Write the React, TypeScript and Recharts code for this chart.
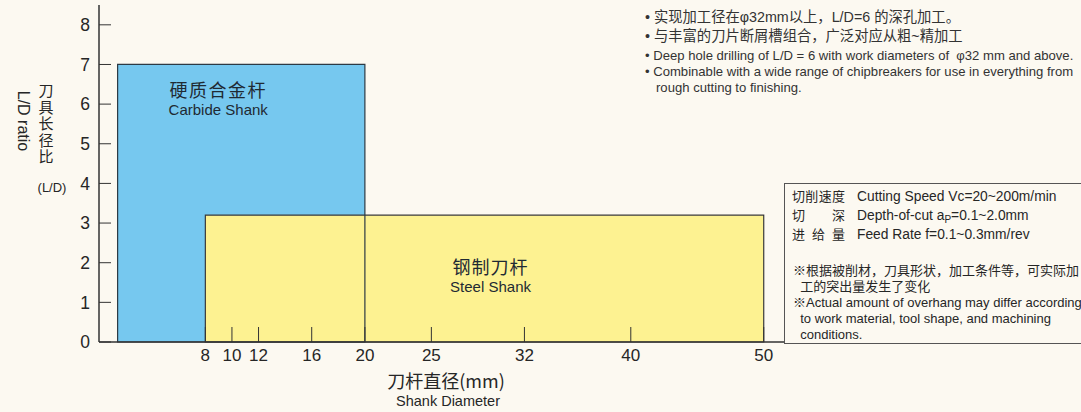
import React from "react";
import { ComposedChart, XAxis, YAxis, ReferenceArea } from "recharts";

if (typeof document !== "undefined") {
  document.body.style.margin = "0";
  document.body.style.background = "#fcf9f1";
}

// 刀杆直径刻度 / L/D 刻度
const diameterTicks = [8, 10, 12, 16, 20, 25, 32, 40, 50];
const ldTicks = [0, 1, 2, 3, 4, 5, 6, 7, 8];

// 刀杆区域: 硬质合金杆, 钢制刀杆
const shankNames = ["硬质合金杆", "钢制刀杆"];
const shankNamesEn = ["Carbide Shank", "Steel Shank"];
const diaMin = [1.4, 8];
const diaMax = [20, 50];
const ldMax = [7, 3.2];

const notesCn = [
  "实现加工径在φ32mm以上，L/D=6 的深孔加工。",
  "与丰富的刀片断屑槽组合，广泛对应从粗~精加工",
];
const notesEn = [
  "Deep hole drilling of L/D = 6 with work diameters of  φ32 mm and above.",
  "Combinable with a wide range of chipbreakers for use in everything from",
];
const notesEnCont = "rough cutting to finishing.";

const condLabels = [["切", "削", "速", "度"], ["切", "深"], ["进", "给", "量"]];
const remarks = [
  "※根据被削材，刀具形状，加工条件等，可实际加",
  "  工的突出量发生了变化",
  "※Actual amount of overhang may differ according",
  "  to work material, tool shape, and machining",
  "  conditions.",
];

const SANS = "'Liberation Sans', Arial, Helvetica, 'Noto Sans CJK SC', sans-serif";
const CJK = "'Noto Sans CJK SC', sans-serif";
const INK = "#262626";

const XTick = (props: any) => {
  const { x, y, payload } = props;
  return (
    <g>
      <line x1={x} x2={x} y1={y} y2={y - 15} stroke="#333" strokeWidth={1} />
      <text x={x} y={y + 19} textAnchor="middle" fontSize={17} fill={INK} fontFamily={SANS}>
        {payload.value}
      </text>
    </g>
  );
};

const YTick = (props: any) => {
  const { x, y, payload } = props;
  return (
    <g>
      <line x1={x} x2={x + 12} y1={y} y2={y} stroke="#333" strokeWidth={1} />
      <text x={x - 9} y={y} dy="0.36em" textAnchor="end" fontSize={17.5} fill={INK} fontFamily={SANS}>
        {payload.value}
      </text>
    </g>
  );
};

const CarbideLabel = (props: any) => {
  const { x, y } = props.viewBox;
  return (
    <g fill="#1f2a33">
      <text x={x + 52} y={y + 33} fontSize={18} letterSpacing={1.5} fontFamily={CJK}>
        {shankNames[0]}
      </text>
      <text x={x + 51} y={y + 51} fontSize={15} fontFamily={SANS}>
        {shankNamesEn[0]}
      </text>
    </g>
  );
};

const SteelLabel = (props: any) => {
  const { x, y, width } = props.viewBox;
  const cx = x + width / 2 + 6;
  return (
    <g fill="#1f2a33" textAnchor="middle">
      <text x={cx} y={y + 59} fontSize={18} letterSpacing={1} fontFamily={CJK}>
        {shankNames[1]}
      </text>
      <text x={cx} y={y + 77} fontSize={15} fontFamily={SANS}>
        {shankNamesEn[1]}
      </text>
    </g>
  );
};

const XTitle = (props: any) => {
  const { x, y, width } = props.viewBox;
  const cx = x + width / 2 + 4;
  return (
    <g fill={INK} textAnchor="middle">
      <text x={cx} y={y + 46} fontSize={18} fontFamily={CJK}>
        刀杆直径(mm)
      </text>
      <text x={cx + 2} y={y + 64} fontSize={14.5} fontFamily={SANS}>
        Shank Diameter
      </text>
    </g>
  );
};

const YTitle = () => (
  <g fill={INK}>
    {/* 竖排中文 */}
    <text x={46} y={83} fontSize={15} letterSpacing={1.5} fontFamily={CJK} style={{ writingMode: "vertical-rl" }}>
      刀具长径比
    </text>
    <text x={52} y={192} textAnchor="middle" fontSize={13} fontFamily={SANS}>
      (L/D)
    </text>
    <text x={24} y={121} textAnchor="middle" dy="0.35em" fontSize={16} fontFamily={SANS} transform="rotate(90 24 121)">
      L/D ratio
    </text>
  </g>
);

const noteStyle: React.CSSProperties = {
  position: "absolute",
  left: 645,
  whiteSpace: "pre",
  color: "#333",
  fontFamily: SANS,
  lineHeight: "16px",
};

export default function App() {
  return (
    <div style={{ position: "relative", width: 1081, height: 412, background: "#fcf9f1", overflow: "hidden" }}>
      <ComposedChart width={1081} height={412} data={[]} margin={{ top: 5, right: 296, bottom: 0, left: 0 }}>
        {/* 硬质合金杆 填充 */}
        <ReferenceArea x1={diaMin[0]} x2={diaMax[0]} y1={0} y2={ldMax[0]} fill="#76c8ef" fillOpacity={1} stroke="none" ifOverflow="visible" />
        {/* 钢制刀杆 */}
        <ReferenceArea
          x1={diaMin[1]}
          x2={diaMax[1]}
          y1={0}
          y2={ldMax[1]}
          fill="#fdf291"
          fillOpacity={1}
          stroke="#3a3a3a"
          strokeWidth={1.2}
          ifOverflow="visible"
          label={SteelLabel}
        />
        {/* 硬质合金杆 边框 */}
        <ReferenceArea
          x1={diaMin[0]}
          x2={diaMax[0]}
          y1={0}
          y2={ldMax[0]}
          fill="none"
          fillOpacity={0}
          stroke="#2c3a44"
          strokeWidth={1.2}
          ifOverflow="visible"
          label={CarbideLabel}
        />
        <XAxis
          type="number"
          dataKey="x"
          domain={[0, 51.6]}
          ticks={diameterTicks}
          interval={0}
          tick={<XTick />}
          tickLine={false}
          tickSize={0}
          tickMargin={0}
          height={70}
          allowDataOverflow
          axisLine={{ stroke: "#333", strokeWidth: 1.5 }}
          label={{ content: XTitle }}
        />
        <YAxis
          type="number"
          domain={[0, 8.5]}
          ticks={ldTicks}
          interval={0}
          tick={<YTick />}
          tickLine={false}
          tickSize={0}
          tickMargin={0}
          width={99}
          allowDataOverflow
          axisLine={{ stroke: "#333", strokeWidth: 1.5 }}
          label={{ content: YTitle }}
        />
      </ComposedChart>

      {/* 特点说明 */}
      {notesCn.map((t, i) => (
        <div key={t} style={{ ...noteStyle, top: 9 + i * 19, fontSize: 14.3 }}>
          {"• " + t}
        </div>
      ))}
      {notesEn.map((t, i) => (
        <div key={t} style={{ ...noteStyle, top: 48 + i * 16, fontSize: 13.1 }}>
          {"• " + t}
        </div>
      ))}
      <div style={{ ...noteStyle, left: 656, top: 80, fontSize: 13.1 }}>{notesEnCont}</div>

      {/* 切削条件 */}
      <div
        style={{
          position: "absolute",
          left: 784,
          top: 183,
          width: 320,
          height: 159,
          border: "1px solid #555",
          fontFamily: SANS,
          color: "#262626",
          fontSize: 13.8,
        }}
      >
        {condLabels.map((chars, i) => (
          <div
            key={i}
            style={{ position: "absolute", left: 7, top: 5 + i * 19, width: 53, display: "flex", justifyContent: "space-between", lineHeight: "16px", fontSize: 13 }}
          >
            {chars.map((c, j) => (
              <span key={j}>{c}</span>
            ))}
          </div>
        ))}
        <div style={{ position: "absolute", left: 72, top: 5, lineHeight: "16px", whiteSpace: "pre" }}>Cutting Speed Vc=20~200m/min</div>
        <div style={{ position: "absolute", left: 72, top: 24, lineHeight: "16px", whiteSpace: "pre" }}>
          Depth-of-cut a<sub style={{ fontSize: 10, verticalAlign: "-3px" }}>P</sub>=0.1~2.0mm
        </div>
        <div style={{ position: "absolute", left: 72, top: 43, lineHeight: "16px", whiteSpace: "pre" }}>Feed Rate f=0.1~0.3mm/rev</div>
        {remarks.map((t, i) => (
          <div key={i} style={{ position: "absolute", left: 8, top: 79 + i * 16, lineHeight: "16px", whiteSpace: "pre", fontSize: 13 }}>
            {t}
          </div>
        ))}
      </div>
    </div>
  );
}
